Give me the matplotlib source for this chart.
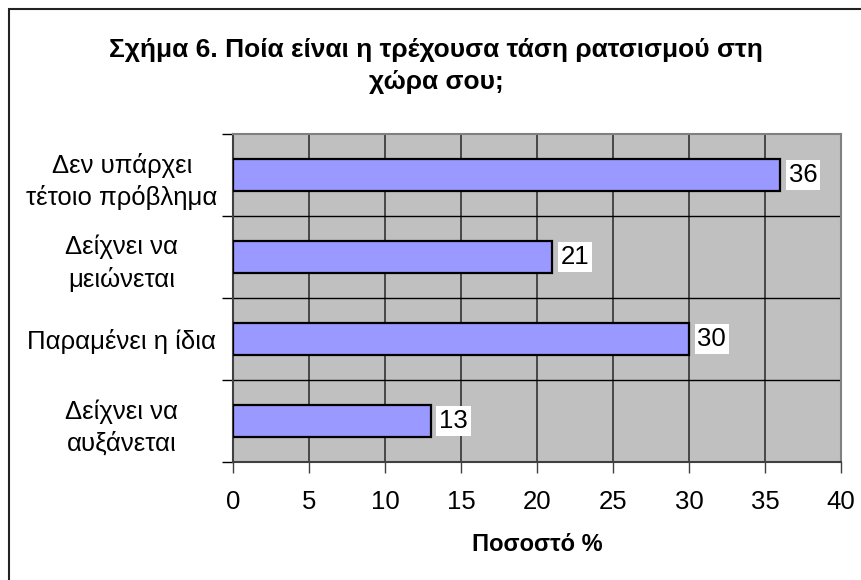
import numpy as np
import matplotlib
matplotlib.use("Agg")
import matplotlib.pyplot as plt
from matplotlib.patches import Rectangle

plt.rcParams['font.family'] = ['Liberation Sans', 'DejaVu Sans']

# data (top to bottom as in the chart)
categories = ["Δεν υπάρχει\nτέτοιο πρόβλημα", "Δείχνει να\nμειώνεται",
              "Παραμένει η ίδια", "Δείχνει να\nαυξάνεται"]
values = [36, 21, 30, 13]
xticks = [0, 5, 10, 15, 20, 25, 30, 35, 40]

title = "Σχήμα 6. Ποία είναι η τρέχουσα τάση ρατσισμού στη\nχώρα σου;"
xlabel = "Ποσοστό %"

fig = plt.figure(figsize=(8.62, 5.8), dpi=100)
ax = fig.add_axes([233/862, 1 - 462/580, (841 - 233)/862, (462 - 134)/580])
ax.set_facecolor('#C0C0C0')

ypos = np.arange(len(categories))[::-1]
ax.barh(ypos, values, height=0.4, color='#9999FF', edgecolor='black',
        linewidth=1.6, zorder=3)

for y, v in zip(ypos, values):
    ax.text(v + 0.55, y, str(v), va='center', ha='left', fontsize=18.5, zorder=4,
            bbox=dict(facecolor='white', edgecolor='none', pad=2))

ax.set_xlim(0, 40)
ax.set_ylim(-0.5, len(categories) - 0.5)
ax.set_xticks(xticks)
ax.set_xticklabels([str(t) for t in xticks], fontsize=18.5)
ax.tick_params(axis='x', length=8, width=1, color='#404040', pad=12)

# category labels at band centres, ticks at band boundaries
ax.set_yticks(ypos)
ax.set_yticklabels(categories, fontsize=18.5, ha='center', linespacing=1.4)
ax.tick_params(axis='y', which='major', length=0, pad=80)
ax.set_yticks(np.arange(-0.5, len(categories)), minor=True)
ax.tick_params(axis='y', which='minor', length=8, width=1, color='black')

ax.grid(axis='x', color='#333333', linewidth=1.2, zorder=1)
for b in np.arange(0.5, len(categories) - 1):
    ax.axhline(b, color='black', linewidth=1, zorder=1)
ax.set_axisbelow(True)

for s in ['top', 'right']:
    ax.spines[s].set_color('#808080')
    ax.spines[s].set_linewidth(1.5)
for s in ['left', 'bottom']:
    ax.spines[s].set_color('#404040')
    ax.spines[s].set_linewidth(1.5)

ax.set_xlabel(xlabel, fontsize=17, fontweight='bold', labelpad=14)
fig.text(436/862, 1 - 66/580, title, ha='center', va='center', fontsize=19,
         fontweight='bold', linespacing=1.45)

fig.add_artist(Rectangle((9/862, -0.1), 2, 1 - 9/580 + 0.1,
                         transform=fig.transFigure, fill=False,
                         edgecolor='#222222', linewidth=1.5))

fig.savefig("out.png", dpi=100, facecolor='white')
